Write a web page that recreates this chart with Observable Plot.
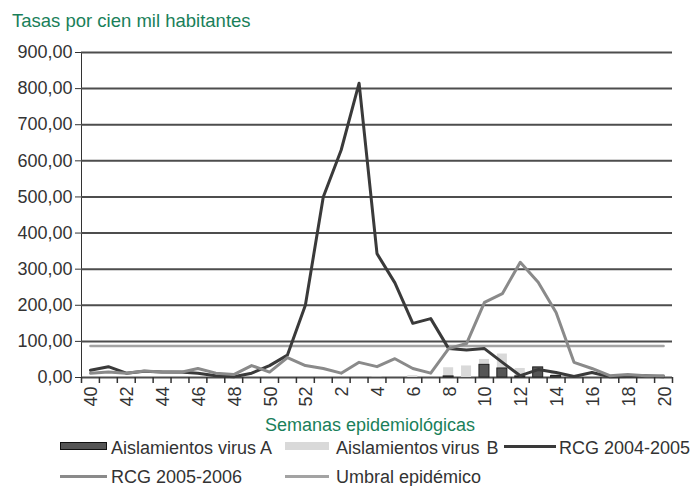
<!DOCTYPE html>
<html><head><meta charset="utf-8">
<script src="https://cdn.jsdelivr.net/npm/d3@7"></script>
<script src="https://cdn.jsdelivr.net/npm/@observablehq/plot@0.6"></script>
<style>
body{margin:0;background:#fff;font-family:"Liberation Sans",Arial,sans-serif}
#wrap{position:relative;width:693px;height:486px;overflow:hidden;background:#fff}
#wrap svg{position:absolute;left:0;top:0}
.t{position:absolute;white-space:pre;font-size:18px;line-height:16px;color:#333}
.g{color:#1a7f5a}
.big{font-size:18.5px}
.tight{word-spacing:-1.5px}
.sw{position:absolute}
</style></head><body><div id="wrap"></div>
<script>
const weeks = ["40","41","42","43","44","45","46","47","48","49","50","51","52",
  "1","2","3","4","5","6","7","8","9","10","11","12","13","14","15","16","17","18","19","20"];
const rcg0405 = [20,30,12,17,15,15,12,5,2,12,33,62,200,500,630,815,343,262,150,163,80,76,80,42,5,22,14,3,14,2,3,5,2];
const rcg0506 = [12,15,12,18,15,14,25,12,8,33,15,55,33,25,12,42,30,52,25,12,80,94,208,232,319,264,180,42,25,5,8,5,5];
const umbral = [87];
const virusA = [0,0,0,0,0,0,0,0,0,0,0,0,0,0,0,0,0,0,0,0,3,0,35,25,3,28,4,0,0,0,0,0,0];
const virusB = [0,0,0,0,0,0,0,0,0,0,0,0,0,0,0,0,1,0,5,0,27,32,50,65,25,0,12,2,0,0,0,0,0];
const yTicks = [0,100,200,300,400,500,600,700,800,900];
const xLabels = ["40","42","44","46","48","50","52","2","4","6","8","10","12","14","16","18","20"];

const data = weeks.map((w,i)=>({w, a: rcg0405[i], b: rcg0506[i], va: virusA[i], vb: virusB[i], u: umbral[0]}));
const fmt = d => d.toFixed(2).replace(".", ",");
const W = 693, H = 486, mL = 81, mR = 21, mT = 52, mB = 109;
const step = (W - mL - mR) / weeks.length;

const chart = Plot.plot({
  width: W, height: H,
  marginTop: mT, marginBottom: mB, marginLeft: mL, marginRight: mR,
  style: {fontFamily: "Liberation Sans, Arial, sans-serif", fontSize: "18px", color: "#333", background: "transparent", overflow: "visible"},
  x: {type: "band", domain: weeks, paddingInner: 0.44, paddingOuter: 0.22, round: false, axis: null},
  y: {domain: [0, 900], ticks: yTicks, tickFormat: fmt, tickSize: 6, tickPadding: 3, line: true, label: null},
  marks: [
    Plot.ruleY(yTicks, {stroke: "#4d4d4d", strokeWidth: 2}),
    Plot.barY(data, {x: "w", y: "vb", fill: "#d9d9d9"}),
    Plot.barY(data, {x: "w", y: "va", fill: "#555", stroke: "#222", strokeWidth: 1}),
    Plot.line(data, {x: "w", y: "u", stroke: "#a3a3a3", strokeWidth: 2.5}),
    Plot.line(data, {x: "w", y: "a", stroke: "#3a3a3a", strokeWidth: 3}),
    Plot.line(data, {x: "w", y: "b", stroke: "#8a8a8a", strokeWidth: 3}),
    Plot.ruleX(weeks, {x: d => d, y1: 0, y2: 0, insetTop: 0, insetBottom: -6, dx: -step / 2, stroke: "#333", strokeWidth: 1.5}),
    Plot.ruleX(weeks.slice(-1), {x: d => d, y1: 0, y2: 0, insetTop: 0, insetBottom: -6, dx: step / 2, stroke: "#333", strokeWidth: 1.5}),
    Plot.text(xLabels, {x: d => d, text: d => d, frameAnchor: "bottom", rotate: -90, textAnchor: "end", dy: 9, dx: 7, fontSize: 18, fill: "#333"})
  ]
});
const wrap = document.getElementById("wrap");
wrap.appendChild(chart);

function addText(txt, x, baseline, cls, center) {
  const s = document.createElement("div");
  s.className = "t " + (cls || "");
  s.textContent = txt;
  s.style.top = (baseline - 13) + "px";
  wrap.appendChild(s);
  if (center) s.style.left = (x - s.offsetWidth / 2) + "px"; else s.style.left = x + "px";
}
function addSwatch(x, y, w, h, bg, border) {
  const d = document.createElement("div");
  d.className = "sw";
  d.style.left = x + "px"; d.style.top = y + "px";
  d.style.width = w + "px"; d.style.height = h + "px";
  d.style.background = bg;
  if (border) d.style.boxSizing = "border-box", d.style.border = border;
  wrap.appendChild(d);
}
addText("Tasas por cien mil habitantes", 12, 26, "g big");
addText("Semanas epidemiológicas", 370, 430, "g", true);
addSwatch(60, 442, 47, 8, "#555", "1px solid #111");
addText("Aislamientos virus A", 111, 453);
addSwatch(285, 442, 44, 8, "#d9d9d9");
addText("Aislamientos virus  B", 336, 453, "tight");
addSwatch(504, 445, 52, 3, "#3a3a3a");
addText("RCG 2004-2005", 559, 453);
addSwatch(60, 475, 47, 3, "#8a8a8a");
addText("RCG 2005-2006", 111, 482);
addSwatch(285, 475, 44, 3, "#a3a3a3");
addText("Umbral epidémico", 336, 482);
</script>
</body></html>
